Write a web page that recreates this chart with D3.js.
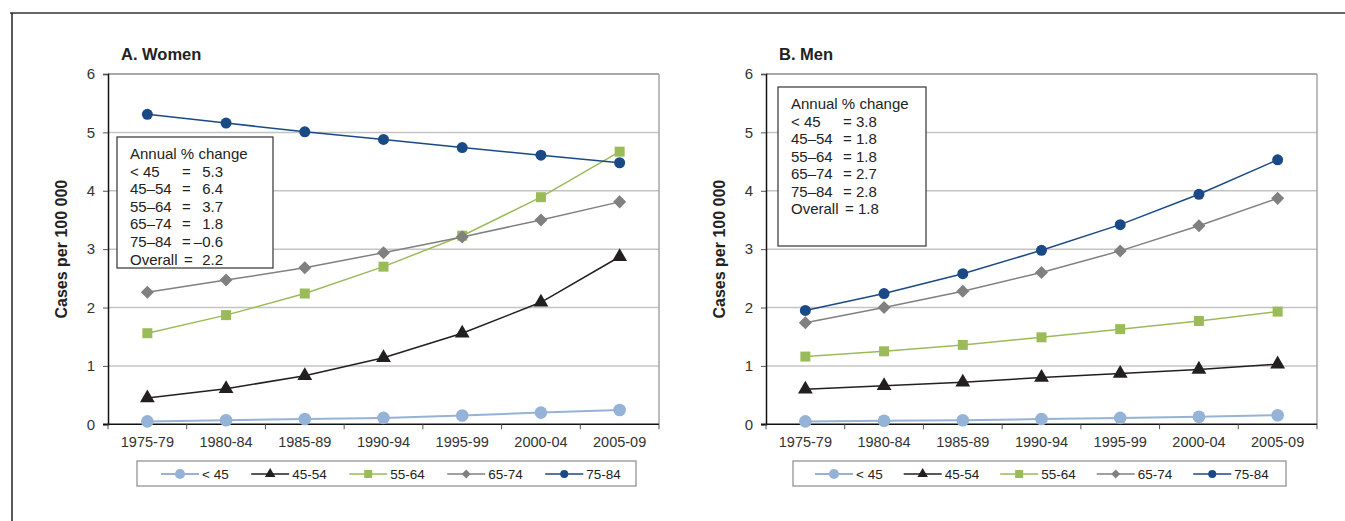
<!DOCTYPE html>
<html>
<head>
<meta charset="utf-8">
<script src="https://cdn.jsdelivr.net/npm/d3@7/dist/d3.min.js"></script>
<style>
  body { margin: 0; background: #fff; }
  svg { display: block; font-family: "Liberation Sans", Arial, sans-serif; }
</style>
</head>
<body>
<svg id="chart" width="1345" height="521"></svg>
<script>
// periods and age groups
const periods = ["1975-79", "1980-84", "1985-89", "1990-94", "1995-99", "2000-04", "2005-09"];
const ageGroups = ["< 45", "45-54", "55-64", "65-74", "75-84"];
const yTicks = [0, 1, 2, 3, 4, 5, 6];

// women, cases per 100 000
const womenU45 = [0.05, 0.07, 0.09, 0.11, 0.15, 0.20, 0.245];
const women4554 = [0.45, 0.61, 0.83, 1.14, 1.56, 2.09, 2.87];
const women5564 = [1.56, 1.87, 2.24, 2.70, 3.23, 3.89, 4.67];
const women6574 = [2.26, 2.47, 2.68, 2.94, 3.21, 3.50, 3.81];
const women7584 = [5.31, 5.16, 5.01, 4.88, 4.74, 4.61, 4.48];

// men, cases per 100 000
const menU45 = [0.05, 0.06, 0.07, 0.09, 0.11, 0.13, 0.155];
const men4554 = [0.60, 0.66, 0.72, 0.80, 0.87, 0.94, 1.03];
const men5564 = [1.16, 1.25, 1.36, 1.49, 1.63, 1.77, 1.93];
const men6574 = [1.74, 2.00, 2.28, 2.60, 2.97, 3.40, 3.87];
const men7584 = [1.95, 2.24, 2.58, 2.98, 3.42, 3.94, 4.53];

// annual % change box
const changeLabels = ["< 45", "45–54", "55–64", "65–74", "75–84", "Overall"];
const womenChange = ["5.3", "6.4", "3.7", "1.8", "–0.6", "2.2"];
const menChange = ["3.8", "1.8", "1.8", "2.7", "2.8", "1.8"];

// style per age group
const styles = [
  { color: "#95b3d7", width: 2,   shape: "circle",   size: 125, lsize: 80 },
  { color: "#231f20", width: 1.5, shape: "triangle", size: 95,  lsize: 48 },
  { color: "#9bbb59", width: 1.5, shape: "square",   size: 100, lsize: 64 },
  { color: "#808080", width: 1.5, shape: "diamond",  size: 85,  lsize: 40 },
  { color: "#1a4a86", width: 1.5, shape: "circle",   size: 95,  lsize: 50 }
];

const svg = d3.select("#chart");
svg.append("rect").attr("width", 1345).attr("height", 521).attr("fill", "#fff");

// outer frame
svg.append("line").attr("x1", 10).attr("x2", 1345).attr("y1", 13).attr("y2", 13)
  .attr("stroke", "#666").attr("stroke-width", 2);
svg.append("line").attr("x1", 12).attr("x2", 12).attr("y1", 13).attr("y2", 521)
  .attr("stroke", "#222").attr("stroke-width", 1.5);

function markerPath(st, size) {
  const type = {
    circle: d3.symbolCircle, triangle: d3.symbolTriangle,
    square: d3.symbolSquare, diamond: d3.symbolSquare
  }[st.shape];
  return d3.symbol().type(type).size(size)();
}

function drawPanel(opt) {
  const g = svg.append("g");
  const x = d3.scaleBand().domain(periods).range([opt.x0, opt.x1]).padding(0);
  const y = d3.scaleLinear().domain([0, 6]).range([424.3, 74]);

  // gridlines
  g.selectAll(".grid").data(yTicks.slice(1)).join("line")
    .attr("x1", opt.x0).attr("x2", opt.x1)
    .attr("y1", d => y(d)).attr("y2", d => y(d))
    .attr("stroke", d => d === 6 ? "#8c8c8c" : "#c4c4c4").attr("stroke-width", 1.5);
  g.append("line").attr("x1", opt.x1).attr("x2", opt.x1)
    .attr("y1", y(6)).attr("y2", y(0)).attr("stroke", "#a6a6a6").attr("stroke-width", 1.5);

  // y axis
  const ya = g.append("g").attr("transform", `translate(${opt.x0},0)`)
    .call(d3.axisLeft(y).tickValues(yTicks).tickFormat(d3.format("d")).tickSize(5).tickPadding(8));
  ya.select(".domain").attr("stroke", "#111").attr("stroke-width", 1.5);
  ya.selectAll(".tick line").attr("stroke", "#555");
  ya.selectAll("text").attr("font-size", 15).attr("fill", "#333")
    .attr("font-family", "Liberation Sans, Arial, sans-serif");

  // x axis
  const xa = g.append("g").attr("transform", `translate(0,${y(0)})`)
    .call(d3.axisBottom(x).tickSize(0).tickPadding(12));
  xa.select(".domain").remove();
  xa.selectAll("text").attr("font-size", 14.5).attr("fill", "#333")
    .attr("font-family", "Liberation Sans, Arial, sans-serif");
  g.append("line").attr("x1", opt.x0 - 5).attr("x2", opt.x1)
    .attr("y1", y(0)).attr("y2", y(0)).attr("stroke", "#111").attr("stroke-width", 1.5);
  g.selectAll(".xt").data(periods.map(p => x(p)).concat([opt.x1])).join("line")
    .attr("x1", d => d).attr("x2", d => d)
    .attr("y1", y(0)).attr("y2", y(0) + 5).attr("stroke", "#555");

  // titles
  g.append("text").attr("x", opt.x0 + 13).attr("y", 60)
    .attr("font-size", 16.5).attr("font-weight", "bold").attr("fill", "#222").text(opt.title);
  g.append("text")
    .attr("transform", `translate(${opt.x0 - 41},${(y(0) + y(6)) / 2}) rotate(-90)`)
    .attr("text-anchor", "middle").attr("font-size", 16).attr("font-weight", "bold")
    .attr("fill", "#222").text("Cases per 100 000");

  // annual change box
  const b = opt.box;
  g.append("rect").attr("x", b.x).attr("y", b.y).attr("width", b.w).attr("height", b.h)
    .attr("fill", "#fff").attr("stroke", "#333").attr("stroke-width", 1.2);
  const bt = g.append("g").attr("font-size", 15).attr("fill", "#222");
  bt.append("text").attr("x", b.x + 13).attr("y", b.y + 22).text("Annual % change");
  changeLabels.forEach((lab, i) => {
    const ty = b.y + 22 + (i + 1) * b.lh;
    bt.append("text").attr("x", b.x + 13).attr("y", ty).text(lab);
    if (b.aligned) {
      bt.append("text").attr("x", b.x + (lab === "Overall" ? 67 : 65)).attr("y", ty).text("=");
      bt.append("text").attr("x", b.x + 106).attr("y", ty).attr("text-anchor", "end").text(opt.change[i]);
    } else {
      bt.append("text").attr("x", b.x + (lab === "Overall" ? 67 : 65)).attr("y", ty)
        .text("= " + opt.change[i]);
    }
  });

  // series
  const line = d3.line().x((d, i) => x(periods[i]) + x.bandwidth() / 2).y(d => y(d));
  opt.series.forEach((vals, k) => {
    const st = styles[k];
    g.append("path").datum(vals).attr("d", line).attr("fill", "none")
      .attr("stroke", st.color).attr("stroke-width", st.width);
    g.selectAll(null).data(vals).join("path")
      .attr("d", markerPath(st, st.size))
      .attr("transform", (d, i) => `translate(${x(periods[i]) + x.bandwidth() / 2},${y(d)})` +
        (st.shape === "diamond" ? " rotate(45)" : ""))
      .attr("fill", st.color);
  });

  // legend: items laid out one after another, like the spreadsheet legend
  const L = opt.legend;
  g.append("rect").attr("x", L.x).attr("y", 461).attr("width", L.w).attr("height", 25)
    .attr("fill", "#fff").attr("stroke", "#8a8a8a").attr("stroke-width", 1.2);
  let lx = L.x + L.pad;
  ageGroups.forEach((a, k) => {
    const st = styles[k];
    const ly = 474;
    g.append("line").attr("x1", lx).attr("x2", lx + 38).attr("y1", ly).attr("y2", ly)
      .attr("stroke", st.color).attr("stroke-width", st.width);
    g.append("path").attr("d", markerPath(st, st.lsize))
      .attr("transform", `translate(${lx + 19},${ly})` + (st.shape === "diamond" ? " rotate(45)" : ""))
      .attr("fill", st.color);
    const t = g.append("text").attr("x", lx + 41).attr("y", ly + 4.5).attr("font-size", 13.5)
      .attr("fill", "#222").text(a);
    lx += 41 + t.node().getComputedTextLength() + L.gap;
  });
}

drawPanel({
  title: "A. Women", x0: 108, x1: 659,
  series: [womenU45, women4554, women5564, women6574, women7584],
  change: womenChange,
  box: { x: 117, y: 137, w: 156, h: 131, lh: 17.6, aligned: true },
  legend: { x: 137, w: 499, pad: 24, gap: 22.5 }
});

drawPanel({
  title: "B. Men", x0: 766, x1: 1317,
  series: [menU45, men4554, men5564, men6574, men7584],
  change: menChange,
  box: { x: 778, y: 87, w: 148, h: 159, lh: 17.5, aligned: false },
  legend: { x: 793, w: 493, pad: 22, gap: 21 }
});
</script>
</body>
</html>
